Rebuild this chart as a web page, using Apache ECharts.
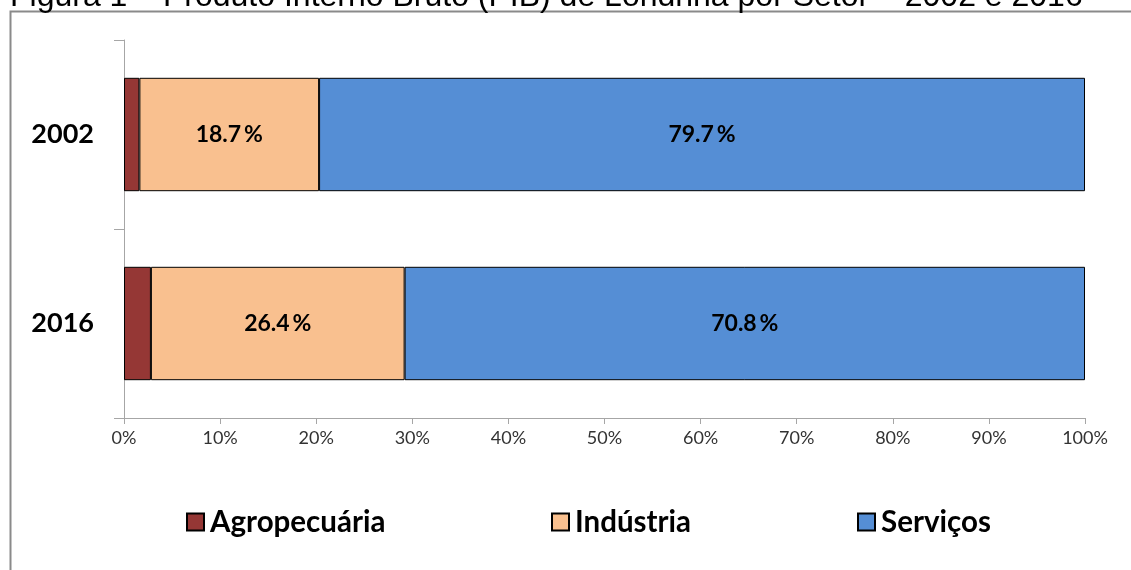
<!DOCTYPE html>
<html>
<head>
<meta charset="utf-8">
<script src="https://cdn.jsdelivr.net/npm/echarts@6/dist/echarts.min.js"></script>
<style>
  html, body { margin: 0; padding: 0; background: #ffffff; }
  #chart { width: 1131px; height: 570px; }
</style>
</head>
<body>
<div id="chart"></div>
<script>
// PIB de Londrina por setor (% do total)
const years = ['2002', '2016'];
const agropecuaria = [1.6, 2.8];
const industria = [18.7, 26.4];
const servicos = [79.7, 70.8];
const xTicks = [0, 10, 20, 30, 40, 50, 60, 70, 80, 90, 100];

const titleText = 'Figura 1 – Produto Interno Bruto (PIB) de Londrina por Setor – 2002 e 2016';
const uiFont = 'Lato, "Open Sans", sans-serif';

const chart = echarts.init(document.getElementById('chart'), null, { renderer: 'canvas' });

const labelStyle = {
  show: true,
  position: 'inside',
  fontFamily: uiFont,
  fontWeight: 'bold',
  fontSize: 23,
  color: '#000000',
  formatter: p => p.value.toFixed(1) + '\u2009%'
};

function legendAt(left, name) {
  return {
    data: [name],
    left: left,
    top: 507,
    padding: 0,
    orient: 'horizontal',
    itemWidth: 17,
    itemHeight: 17,
    itemGap: 8,
    icon: 'rect',
    selectedMode: false,
    textStyle: { fontFamily: uiFont, fontWeight: 'bold', fontSize: 29.5, color: '#000000', padding: [0, 0, 0, 1] }
  };
}

chart.setOption({
  animation: false,
  backgroundColor: '#ffffff',
  graphic: [
    {
      type: 'rect',
      shape: { x: 10.5, y: 11.5, width: 1300, height: 700 },
      style: { fill: 'none', stroke: '#8a8a8a', lineWidth: 2 },
      silent: true
    },
    {
      type: 'text',
      left: 10,
      top: -19,
      style: {
        text: titleText,
        fontFamily: '"Liberation Sans", Arial, sans-serif',
        fontSize: 32,
        fill: '#000000'
      },
      silent: true
    }
  ],
  legend: [
    legendAt(186, 'Agropecuária'),
    legendAt(551, 'Indústria'),
    legendAt(857, 'Serviços')
  ],
  grid: { left: 124, right: 46, top: 40, bottom: 152, containLabel: false },
  xAxis: {
    type: 'value',
    min: xTicks[0],
    max: xTicks[xTicks.length - 1],
    interval: 10,
    axisLine: { show: true, lineStyle: { color: '#a6a6a6', width: 1 } },
    axisTick: { show: true, length: 6, lineStyle: { color: '#a6a6a6' } },
    splitLine: { show: false },
    axisLabel: {
      formatter: '{value}%',
      fontFamily: uiFont,
      fontSize: 18,
      color: '#333333',
      margin: 11
    }
  },
  yAxis: {
    type: 'category',
    data: years,
    inverse: true,
    boundaryGap: true,
    axisLine: { show: true, lineStyle: { color: '#a6a6a6', width: 1 } },
    axisTick: { show: true, length: 10, inside: false, lineStyle: { color: '#a6a6a6' } },
    axisLabel: {
      fontFamily: uiFont,
      fontWeight: 'bold',
      fontSize: 27,
      color: '#000000',
      margin: 30
    }
  },
  series: [
    {
      name: 'Agropecuária',
      type: 'bar',
      stack: 'pib',
      barWidth: '60%',
      data: agropecuaria,
      itemStyle: { color: '#953735', borderColor: '#000000', borderWidth: 1 },
      label: { show: false }
    },
    {
      name: 'Indústria',
      type: 'bar',
      stack: 'pib',
      barWidth: '60%',
      data: industria,
      itemStyle: { color: '#F9C08F', borderColor: '#000000', borderWidth: 1 },
      label: labelStyle
    },
    {
      name: 'Serviços',
      type: 'bar',
      stack: 'pib',
      barWidth: '60%',
      data: servicos,
      itemStyle: { color: '#558ED5', borderColor: '#000000', borderWidth: 1 },
      label: labelStyle
    }
  ]
});
</script>
</body>
</html>
